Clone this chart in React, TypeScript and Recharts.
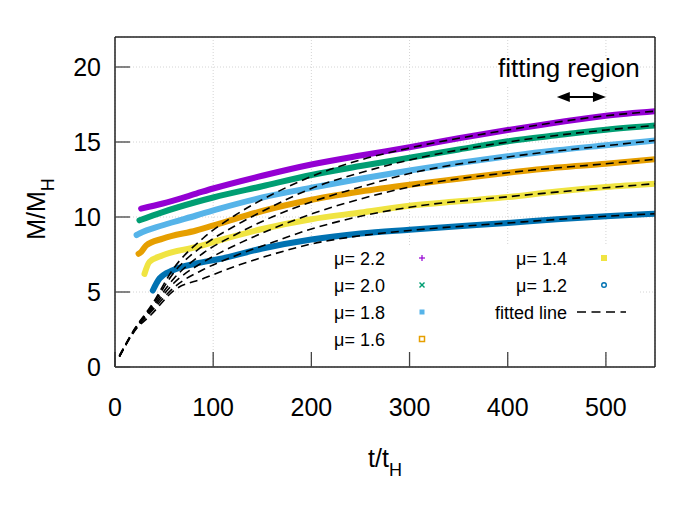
import { LineChart, Line, XAxis, YAxis, CartesianGrid, ReferenceLine } from 'recharts'

// measured curves, one t/M pair of arrays per mu
const t22 = [26.6, 48.7, 82.7, 100, 150, 200, 250, 300, 350, 400, 450, 500, 550]
const m22 = [10.56, 10.9, 11.56, 11.9, 12.75, 13.5, 14.1, 14.65, 15.25, 15.8, 16.3, 16.75, 17.05]
const t20 = [24.9, 48.7, 82.7, 100, 150, 200, 250, 300, 350, 400, 450, 500, 550]
const m20 = [9.78, 10.33, 11.0, 11.3, 12.05, 12.8, 13.4, 13.95, 14.5, 15.05, 15.45, 15.82, 16.1]
const t18 = [22, 24.9, 48.7, 82.7, 106.5, 150, 200, 250, 300, 350, 400, 450, 500, 550]
const m18 = [8.8, 8.9, 9.45, 10.1, 10.56, 11.3, 11.95, 12.55, 13.1, 13.6, 14.05, 14.45, 14.78, 15.1]
const t16 = [24, 26.6, 31.7, 48.7, 82.7, 106.5, 150, 200, 250, 300, 350, 400, 450, 500, 550]
const m16 = [7.55, 7.67, 8.1, 8.56, 9.1, 9.56, 10.4, 11.15, 11.7, 12.15, 12.55, 12.95, 13.3, 13.55, 13.85]
const t14 = [30, 35, 48.7, 82.7, 106.5, 150, 200, 250, 300, 350, 400, 450, 500, 550]
const m14 = [6.2, 7.0, 7.45, 8.0, 8.45, 9.2, 9.85, 10.3, 10.75, 11.05, 11.33, 11.7, 12.0, 12.22]
const t12 = [38.5, 45.3, 58.9, 82.7, 106.5, 150, 200, 250, 300, 350, 400, 450, 500, 550]
const m12 = [5.1, 5.9, 6.45, 6.9, 7.2, 7.9, 8.5, 8.9, 9.15, 9.38, 9.6, 9.85, 10.05, 10.22]

// fitted lines (dashed), read at common t
const fitT = [4.5, 20, 37, 60, 90, 122, 160, 200, 250, 300, 400, 500, 550]
const fit22 = [0.75, 2.55, 4.1, 6.6, 8.6, 10.1, 11.5, 12.7, 13.8, 14.6, 15.8, 16.75, 17.05]
const fit20 = [0.75, 2.5, 4.0, 6.3, 8.1, 9.4, 10.7, 11.9, 12.95, 13.8, 15.0, 15.8, 16.1]
const fit18 = [0.7, 2.5, 3.9, 5.9, 7.6, 8.8, 10.0, 11.0, 12.0, 12.9, 14.0, 14.75, 15.1]
const fit16 = [0.7, 2.45, 3.8, 5.6, 7.0, 8.1, 9.2, 10.2, 11.2, 12.0, 12.95, 13.55, 13.85]
const fit14 = [0.7, 2.45, 3.7, 5.3, 6.5, 7.4, 8.3, 9.2, 10.05, 10.65, 11.35, 11.95, 12.22]
const fit12 = [0.7, 2.4, 3.5, 5.1, 5.9, 6.7, 7.5, 8.2, 8.75, 9.1, 9.6, 10.05, 10.22]

const muLabels = ['2.2', '2.0', '1.8', '1.6', '1.4', '1.2']
const colors = ['#9400d3', '#009e73', '#56b4e9', '#e69f00', '#f0e442', '#0072b2']

const xTicks = [0, 100, 200, 300, 400, 500]
const yTicks = [0, 5, 10, 15, 20]

// arrow marking the fitting region
const regionStart = 450
const regionEnd = 500
const regionM = 18

const zip = (ts: number[], ms: number[]) => ts.map((t, i) => ({ t, M: ms[i] }))

const measured = [zip(t22, m22), zip(t20, m20), zip(t18, m18), zip(t16, m16), zip(t14, m14), zip(t12, m12)]
const fits = [fit22, fit20, fit18, fit16, fit14, fit12].map(f => zip(fitT, f))

const FONT = '"Liberation Sans", Arial, sans-serif'
const tickStyle = { fill: '#000', fontSize: 25, fontFamily: FONT }

// opaque label boxes (key and "fitting region"), the grid is not drawn under them
const keyBox = { x: 279, y: 246, w: 361, h: 106 }
const textBox = { x: 497, y: 56, w: 143, h: 31 }
const boxes = [keyBox, textBox]

function cut(a: number, b: number, holes: number[][]) {
  let segs = [[a, b]]
  holes.forEach(([h0, h1]) => {
    const next: number[][] = []
    segs.forEach(([s0, s1]) => {
      if (h1 <= s0 || h0 >= s1) next.push([s0, s1])
      else {
        if (h0 > s0) next.push([s0, h0])
        if (h1 < s1) next.push([h1, s1])
      }
    })
    segs = next
  })
  return segs
}

const gridStroke = { stroke: '#d4d4d4', strokeDasharray: '1 2', strokeWidth: 1 }

function HGrid(p: any) {
  const holes = boxes.filter(b => p.y1 >= b.y && p.y1 <= b.y + b.h).map(b => [b.x, b.x + b.w])
  return (
    <g>
      {cut(p.x1, p.x2, holes).map(([a, b], i) => (
        <line key={i} x1={a} x2={b} y1={p.y1} y2={p.y2} {...gridStroke} />
      ))}
    </g>
  )
}

function VGrid(p: any) {
  const holes = boxes.filter(b => p.x1 >= b.x && p.x1 <= b.x + b.w).map(b => [b.y, b.y + b.h])
  return (
    <g>
      {cut(p.y1, p.y2, holes).map(([a, b], i) => (
        <line key={i} x1={p.x1} x2={p.x2} y1={a} y2={b} {...gridStroke} />
      ))}
    </g>
  )
}

function Arrow(props: any) {
  const { x1, y1, x2, y2 } = props
  const h = 13
  const w = 5
  return (
    <g>
      <line x1={x1 + h - 2} y1={y1} x2={x2 - h + 2} y2={y2} stroke="#000" strokeWidth={2} />
      <polygon points={`${x1},${y1} ${x1 + h},${y1 - w} ${x1 + h},${y1 + w}`} fill="#000" />
      <polygon points={`${x2},${y2} ${x2 - h},${y2 - w} ${x2 - h},${y2 + w}`} fill="#000" />
    </g>
  )
}

function Symbol({ i, x, y }: { i: number; x: number; y: number }) {
  const c = colors[i]
  switch (i) {
    case 0:
      return <g stroke={c} strokeWidth={1.2}><line x1={x - 3} y1={y} x2={x + 3} y2={y} /><line x1={x} y1={y - 3} x2={x} y2={y + 3} /></g>
    case 1:
      return <g stroke={c} strokeWidth={1.4}><line x1={x - 2.5} y1={y - 2.5} x2={x + 2.5} y2={y + 2.5} /><line x1={x - 2.5} y1={y + 2.5} x2={x + 2.5} y2={y - 2.5} /></g>
    case 2:
      return <rect x={x - 2.5} y={y - 2.5} width={5} height={5} fill={c} />
    case 3:
      return <rect x={x - 2.5} y={y - 2.5} width={5} height={5} fill="#fff" stroke={c} strokeWidth={1.5} />
    case 4:
      return <rect x={x - 3} y={y - 3} width={6} height={6} fill={c} />
    default:
      return <circle cx={x} cy={y} r={2.3} fill="#fff" stroke={c} strokeWidth={1.4} />
  }
}

export default function App() {
  const rowY = [265, 292, 319, 346]
  return (
    <div style={{ position: 'absolute', left: 0, top: 0, width: 698, height: 523, background: '#fff', fontFamily: FONT }}>
      <LineChart width={698} height={523} margin={{ top: 36, right: 42, bottom: 126, left: 55 }}>
        <CartesianGrid horizontal={HGrid} vertical={VGrid} />
        <XAxis
          dataKey="t"
          type="number"
          domain={[0, 550]}
          ticks={xTicks}
          height={30}
          tickSize={-15}
          tickMargin={46}
          tick={tickStyle}
          tickLine={{ stroke: '#444', strokeWidth: 1.3 }}
          axisLine={{ stroke: '#222', strokeWidth: 1.5 }}
          allowDataOverflow
        />
        <XAxis
          xAxisId="top"
          orientation="top"
          dataKey="t"
          type="number"
          domain={[0, 550]}
          ticks={xTicks}
          height={1}
          tickSize={-15}
          tickFormatter={() => ''}
          tickLine={{ stroke: '#444', strokeWidth: 1.3 }}
          axisLine={{ stroke: '#222', strokeWidth: 1.5 }}
        />
        <YAxis
          type="number"
          domain={[0, 22]}
          ticks={yTicks}
          width={60}
          tickSize={-15}
          tickMargin={29}
          tick={tickStyle}
          tickLine={{ stroke: '#444', strokeWidth: 1.3 }}
          axisLine={{ stroke: '#222', strokeWidth: 1.5 }}
          allowDataOverflow
        />
        <YAxis
          yAxisId="right"
          orientation="right"
          type="number"
          domain={[0, 22]}
          ticks={yTicks}
          width={1}
          tickSize={-15}
          tickFormatter={() => ''}
          tickLine={{ stroke: '#444', strokeWidth: 1.3 }}
          axisLine={{ stroke: '#222', strokeWidth: 1.5 }}
        />
        {measured.map((d, i) => (
          <Line
            key={'m' + i}
            data={d}
            dataKey="M"
            type="monotone"
            stroke={colors[i]}
            strokeWidth={6}
            strokeLinecap="round"
            dot={false}
            isAnimationActive={false}
          />
        ))}
        {fits.map((d, i) => (
          <Line
            key={'f' + i}
            data={d}
            dataKey="M"
            type="monotone"
            stroke="#000"
            strokeWidth={1.6}
            strokeDasharray="8 5"
            dot={false}
            isAnimationActive={false}
          />
        ))}
        <ReferenceLine
          segment={[{ x: regionStart, y: regionM }, { x: regionEnd, y: regionM }]}
          shape={Arrow}
        />
      </LineChart>
      <svg width={698} height={523} style={{ position: 'absolute', left: 0, top: 0, pointerEvents: 'none' }} fontFamily={FONT}>
        <text x={498} y={77} fontSize={26} fill="#000">fitting region</text>

        {muLabels.map((mu, i) => {
          const col = i < 4 ? 0 : 1
          const row = i < 4 ? i : i - 4
          return (
            <g key={mu}>
              <text x={col ? 567 : 385} y={rowY[row]} fontSize={18} textAnchor="end" fill="#000">μ= {mu}</text>
              <Symbol i={i} x={col ? 604 : 422} y={rowY[row] - 7} />
            </g>
          )
        })}
        <text x={567} y={rowY[2]} fontSize={18} textAnchor="end" fill="#000">fitted line</text>
        <line x1={577} y1={rowY[2] - 7} x2={626} y2={rowY[2] - 7} stroke="#000" strokeWidth={1.6} strokeDasharray="9 5.5" />

        <text x={385} y={467} fontSize={25} textAnchor="middle" fill="#000">
          t/t<tspan fontSize={18} dy={9}>H</tspan>
        </text>
        <text transform="translate(45,209) rotate(-90)" fontSize={25} textAnchor="middle" fill="#000">
          M/M<tspan fontSize={18} dy={9}>H</tspan>
        </text>
      </svg>
    </div>
  )
}
